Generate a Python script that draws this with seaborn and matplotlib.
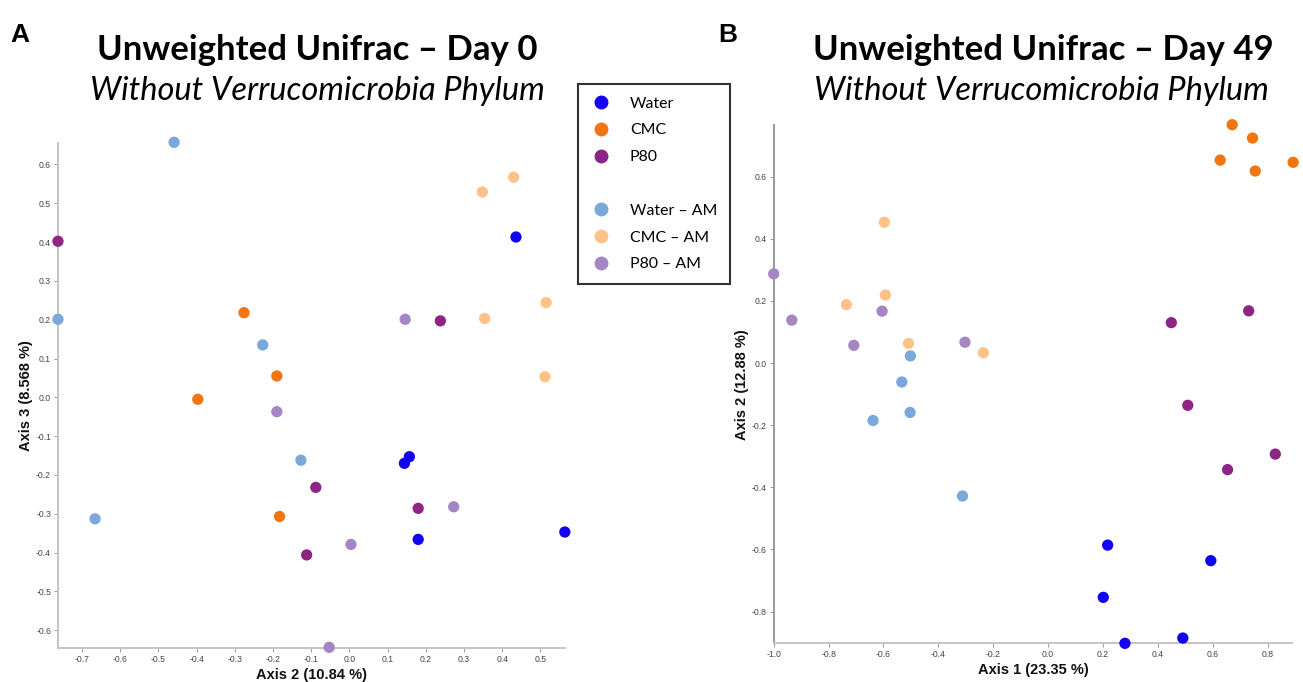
import pandas as pd
import matplotlib
matplotlib.use("Agg")
import matplotlib.pyplot as plt
import seaborn as sns
from matplotlib.lines import Line2D
from matplotlib.ticker import FormatStrFormatter

# groups and colours
groups = ["Water", "CMC", "P80", "Water – AM", "CMC – AM", "P80 – AM"]
colors = ["#1200F4", "#F27510", "#8E2585", "#7AA8DB", "#FFC38A", "#A586C4"]

# Day 0: Axis 2 (x) / Axis 3 (y)
d0_water_x = [0.436, 0.157, 0.144, 0.180, 0.564]
d0_water_y = [0.413, -0.153, -0.170, -0.366, -0.347]
d0_cmc_x = [-0.276, -0.190, -0.397, -0.183]
d0_cmc_y = [0.218, 0.055, -0.005, -0.307]
d0_p80_x = [-0.763, 0.238, -0.088, -0.112, 0.180]
d0_p80_y = [0.402, 0.197, -0.232, -0.406, -0.286]
d0_water_am_x = [-0.459, -0.763, -0.227, -0.127, -0.666]
d0_water_am_y = [0.657, 0.201, 0.135, -0.162, -0.313]
d0_cmc_am_x = [0.348, 0.430, 0.515, 0.354, 0.512]
d0_cmc_am_y = [0.529, 0.567, 0.244, 0.203, 0.053]
d0_p80_am_x = [0.146, -0.190, 0.004, -0.053, 0.273]
d0_p80_am_y = [0.201, -0.037, -0.379, -0.644, -0.282]

# Day 49: Axis 1 (x) / Axis 2 (y)
d49_water_x = [0.217, 0.593, 0.201, 0.280, 0.491]
d49_water_y = [-0.586, -0.636, -0.754, -0.902, -0.885]
d49_cmc_x = [0.671, 0.745, 0.627, 0.755, 0.893]
d49_cmc_y = [0.767, 0.724, 0.653, 0.618, 0.646]
d49_p80_x = [0.449, 0.731, 0.509, 0.654, 0.828]
d49_p80_y = [0.130, 0.168, -0.136, -0.343, -0.293]
d49_water_am_x = [-0.502, -0.533, -0.638, -0.503, -0.312]
d49_water_am_y = [0.023, -0.061, -0.185, -0.159, -0.428]
d49_cmc_am_x = [-0.597, -0.593, -0.735, -0.509, -0.236]
d49_cmc_am_y = [0.453, 0.219, 0.188, 0.063, 0.033]
d49_p80_am_x = [-1.0, -0.934, -0.708, -0.605, -0.303]
d49_p80_am_y = [0.287, 0.138, 0.057, 0.167, 0.067]

d0_ticks_x = [-0.7, -0.6, -0.5, -0.4, -0.3, -0.2, -0.1, 0.0, 0.1, 0.2, 0.3, 0.4, 0.5]
d0_ticks_y = [-0.6, -0.5, -0.4, -0.3, -0.2, -0.1, 0.0, 0.1, 0.2, 0.3, 0.4, 0.5, 0.6]
d49_ticks_x = [-1.0, -0.8, -0.6, -0.4, -0.2, 0.0, 0.2, 0.4, 0.6, 0.8]
d49_ticks_y = [-0.8, -0.6, -0.4, -0.2, 0.0, 0.2, 0.4, 0.6]


def make_frame(xs, ys):
    rows = []
    for g, gx, gy in zip(groups, xs, ys):
        for a, b in zip(gx, gy):
            rows.append({"x": a, "y": b, "group": g})
    return pd.DataFrame(rows)


df0 = make_frame(
    [d0_water_x, d0_cmc_x, d0_p80_x, d0_water_am_x, d0_cmc_am_x, d0_p80_am_x],
    [d0_water_y, d0_cmc_y, d0_p80_y, d0_water_am_y, d0_cmc_am_y, d0_p80_am_y],
)
df49 = make_frame(
    [d49_water_x, d49_cmc_x, d49_p80_x, d49_water_am_x, d49_cmc_am_x, d49_p80_am_x],
    [d49_water_y, d49_cmc_y, d49_p80_y, d49_water_am_y, d49_cmc_am_y, d49_p80_am_y],
)

sns.set_theme(style="white")
plt.rcParams["font.family"] = ["Liberation Sans", "DejaVu Sans"]
plt.rcParams["axes.unicode_minus"] = False
plt.rcParams["text.color"] = "black"
plt.rcParams["axes.labelcolor"] = "#111111"

palette = dict(zip(groups, colors))
fig = plt.figure(figsize=(13.03, 6.82), dpi=100)
ax_a = fig.add_axes([0.0445, 0.0503, 0.389, 0.7405])
ax_b = fig.add_axes([0.5938, 0.0567, 0.398, 0.760])


def draw_panel(ax, df, xlim, ylim, xt, yt, xlabel, ylabel, ycolor):
    sns.scatterplot(data=df, x="x", y="y", hue="group", hue_order=groups,
                    palette=palette, s=66, linewidth=0, legend=False,
                    clip_on=False, zorder=3, ax=ax)
    ax.set_xlim(*xlim)
    ax.set_ylim(*ylim)
    ax.set_xticks(xt)
    ax.set_yticks(yt)
    ax.xaxis.set_major_formatter(FormatStrFormatter("%.1f"))
    ax.yaxis.set_major_formatter(FormatStrFormatter("%.1f"))
    sns.despine(ax=ax)
    ax.spines["bottom"].set_color("#c4c4c4")
    ax.spines["bottom"].set_linewidth(1.4)
    ax.spines["left"].set_color(ycolor)
    ax.spines["left"].set_linewidth(1.4)
    ax.tick_params(bottom=True, left=True, length=3, width=0.7, color="#999999",
                   labelsize=6.2, labelcolor="#444444", pad=2)
    ax.set_xlabel(xlabel, fontsize=10.5, fontweight="bold", labelpad=3)
    ax.set_ylabel(ylabel, fontsize=10.5, fontweight="bold", labelpad=2)


draw_panel(ax_a, df0, (-0.763, 0.564), (-0.645, 0.656), d0_ticks_x, d0_ticks_y,
           "Axis 2 (10.84 %)", "Axis 3 (8.568 %)", "#c4c4c4")
draw_panel(ax_b, df49, (-1.0, 0.89), (-0.902, 0.766), d49_ticks_x, d49_ticks_y,
           "Axis 1 (23.35 %)", "Axis 2 (12.88 %)", "#9a9a9a")

# titles
title_font = ["Lato", "DejaVu Sans"]
fig.text(317 / 1303, 1 - 60 / 682, "Unweighted Unifrac – Day 0", ha="center",
         va="baseline", fontsize=25, fontweight="bold", family=title_font)
fig.text(317 / 1303, 1 - 100 / 682, "Without Verrucomicrobia Phylum", ha="center",
         va="baseline", fontsize=23.5, style="italic", family=title_font)
fig.text(1043 / 1303, 1 - 60 / 682, "Unweighted Unifrac – Day 49", ha="center",
         va="baseline", fontsize=25, fontweight="bold", family=title_font)
fig.text(1041 / 1303, 1 - 100 / 682, "Without Verrucomicrobia Phylum", ha="center",
         va="baseline", fontsize=23.5, style="italic", family=title_font)
fig.text(10 / 1303, 1 - 42 / 682, "A", ha="left", va="baseline", fontsize=19,
         fontweight="bold")
fig.text(718 / 1303, 1 - 42 / 682, "B", ha="left", va="baseline", fontsize=19,
         fontweight="bold")

# legend with a blank row between the two sets
handles = []
labels = []
for i, (g, c) in enumerate(zip(groups, colors)):
    if i == 3:
        handles.append(Line2D([], [], linestyle="none"))
        labels.append(" ")
    handles.append(Line2D([], [], marker="o", linestyle="none", markersize=10,
                          markerfacecolor=c, markeredgewidth=0))
    labels.append(g)
leg = fig.legend(handles, labels, loc="upper left",
                 bbox_to_anchor=(578 / 1303, 1 - 84 / 682), fancybox=False,
                 frameon=True, edgecolor="black",
                 labelspacing=0.8, handlelength=1.35, handletextpad=1.13,
                 borderpad=0.8, borderaxespad=0,
                 prop={"family": title_font, "size": 11.4})
leg.get_frame().set_linewidth(1.5)

fig.savefig("out.png", dpi=100)
